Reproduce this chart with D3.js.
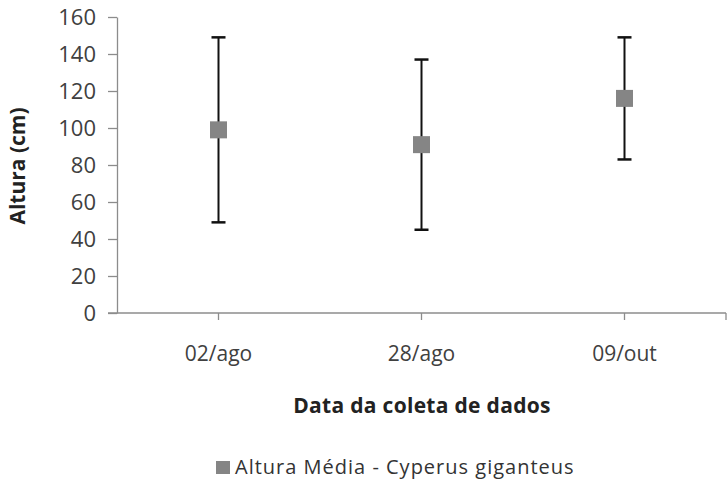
<!DOCTYPE html>
<html>
<head>
<meta charset="utf-8">
<script src="https://cdn.jsdelivr.net/npm/d3@7"></script>
<style>
  body { margin: 0; background: #fff; }
  svg { font-family: "Open Sans", sans-serif; }
</style>
</head>
<body>
<svg id="canvas" width="728" height="486"></svg>
<script>
// chart data
let categories = ['02/ago', '28/ago', '09/out'];
let meanValues = [99, 91, 116];
let errorValues = [50, 46, 33];
let yTicks = [0, 20, 40, 60, 80, 100, 120, 140, 160];

let canvas = d3.select('#canvas');

let plotLeft = 117, plotRight = 726, plotTop = 17, plotBottom = 313;

let xScale = d3.scaleBand().domain(categories).range([plotLeft, plotRight]);
let yScale = d3.scaleLinear().domain([0, 160]).range([plotBottom, plotTop]);

// y axis
let yAxis = canvas.append('g')
  .attr('transform', 'translate(' + plotLeft + ',0)')
  .call(d3.axisLeft(yScale).tickValues(yTicks).tickSize(9).tickPadding(12).tickSizeOuter(0));
yAxis.select('.domain').attr('stroke', '#8c8c8c').attr('stroke-width', 1.3);
yAxis.selectAll('.tick line').attr('stroke', '#8c8c8c').attr('stroke-width', 1.3);
yAxis.selectAll('.tick text')
  .attr('font-size', 22)
  .attr('fill', '#404040')
  .attr('font-family', 'Open Sans, sans-serif');

// x axis
let xAxis = canvas.append('g')
  .attr('transform', 'translate(0,' + plotBottom + ')')
  .call(d3.axisBottom(xScale).tickSize(7).tickSizeOuter(0));
xAxis.select('.domain').attr('stroke', '#8c8c8c').attr('stroke-width', 1.3)
  .attr('d', 'M' + (plotLeft - 9) + ',0H' + plotRight);
xAxis.selectAll('.tick line').attr('stroke', '#8c8c8c').attr('stroke-width', 1.3);
xAxis.selectAll('.tick text')
  .attr('y', 48)
  .attr('dy', null)
  .attr('font-size', 21)
  .attr('fill', '#404040')
  .attr('font-family', 'Open Sans, sans-serif');
xAxis.append('line')
  .attr('x1', plotRight).attr('x2', plotRight)
  .attr('y1', 0).attr('y2', 7)
  .attr('stroke', '#8c8c8c').attr('stroke-width', 1.3);

// error bars
let bars = canvas.selectAll('.errbar')
  .data(categories)
  .enter()
  .append('g')
  .attr('class', 'errbar');

bars.append('line')
  .attr('x1', (d) => xScale(d) + xScale.bandwidth() / 2)
  .attr('x2', (d) => xScale(d) + xScale.bandwidth() / 2)
  .attr('y1', (d, i) => yScale(meanValues[i] + errorValues[i]))
  .attr('y2', (d, i) => yScale(meanValues[i] - errorValues[i]))
  .attr('stroke', '#111')
  .attr('stroke-width', 2);

[1, -1].forEach((sign) => {
  bars.append('line')
    .attr('x1', (d) => xScale(d) + xScale.bandwidth() / 2 - 7)
    .attr('x2', (d) => xScale(d) + xScale.bandwidth() / 2 + 7)
    .attr('y1', (d, i) => yScale(meanValues[i] + sign * errorValues[i]))
    .attr('y2', (d, i) => yScale(meanValues[i] + sign * errorValues[i]))
    .attr('stroke', '#111')
    .attr('stroke-width', 2.5);
});

// markers
let markerSize = 17;
bars.append('rect')
  .attr('x', (d) => xScale(d) + xScale.bandwidth() / 2 - markerSize / 2)
  .attr('y', (d, i) => yScale(meanValues[i]) - markerSize / 2)
  .attr('width', markerSize)
  .attr('height', markerSize)
  .attr('fill', '#858585');

// axis titles
canvas.append('text')
  .attr('transform', 'translate(25,166) rotate(-90)')
  .attr('text-anchor', 'middle')
  .attr('font-size', 21)
  .attr('font-weight', 'bold')
  .attr('fill', '#222')
  .text('Altura (cm)');

canvas.append('text')
  .attr('x', 422)
  .attr('y', 413)
  .attr('text-anchor', 'middle')
  .attr('font-size', 21)
  .attr('font-weight', 'bold')
  .attr('letter-spacing', 0.3)
  .attr('fill', '#222')
  .text('Data da coleta de dados');

// legend
let legend = canvas.append('g').attr('transform', 'translate(216,461)');
legend.append('rect')
  .attr('width', 14).attr('height', 13)
  .attr('fill', '#858585');
legend.append('text')
  .attr('x', 19)
  .attr('y', 13)
  .attr('font-size', 20)
  .attr('letter-spacing', 1)
  .attr('fill', '#333')
  .text('Altura Média - Cyperus giganteus');
</script>
</body>
</html>
